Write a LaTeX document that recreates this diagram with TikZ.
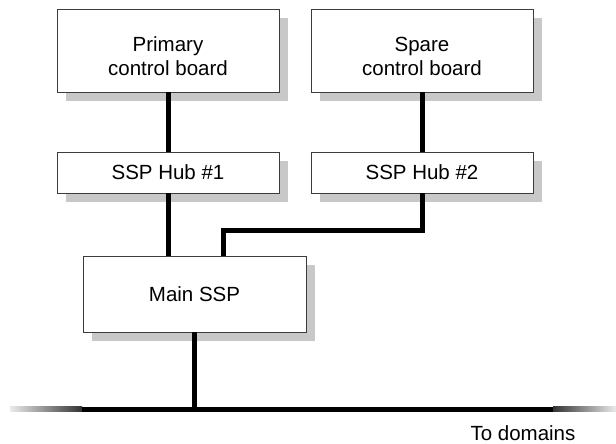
\documentclass[tikz,border=0pt]{standalone}
\usepackage{fontspec}
\setmainfont{Liberation Sans}
\usetikzlibrary{shadows}
\definecolor{shadowgray}{RGB}{200,200,200}
\definecolor{edgegray}{RGB}{60,60,60}
\newcommand{\lowstrut}{\rule{0pt}{26pt}}
\begin{document}
\begin{tikzpicture}[x=1pt,y=-1pt,
  box/.style={draw=edgegray,line width=0.9pt,fill=white,align=center,
    font=\fontsize{20.5}{24.5}\selectfont,inner sep=0pt,
    drop shadow={shadow xshift=9pt,shadow yshift=-9pt,fill=shadowgray,opacity=1}},
  bigbox/.style={box,minimum width=222pt,minimum height=83pt},
  hubbox/.style={box,minimum width=222pt,minimum height=41pt},
  conn/.style={line width=5pt,line join=miter,line cap=butt}]
\useasboundingbox (0,0) rectangle (616,444);
\node[bigbox] (prim) at (168,50.5) {\lowstrut Primary\\control board};
\node[bigbox] (spare) at (422,50.5) {\lowstrut Spare\\control board};
\node[hubbox] (hub1) at (168,172.5) {SSP Hub \#1};
\node[hubbox] (hub2) at (422,172.5) {SSP Hub \#2};
\node[box,minimum width=223pt,minimum height=76pt] (main) at (194.5,294) {Main SSP};
\coordinate (bend) at (223,230);
\coordinate (tap) at (194.5,409);
\coordinate (barL) at (82,409);
\coordinate (barR) at (553,409);
\draw[conn] (prim.south) -- (hub1.north);
\draw[conn] (spare.south) -- (hub2.north);
\draw[conn] (hub1.south) -- (hub1.south |- main.north);
\draw[conn] (hub2.south) |- (bend) -- (bend |- main.north);
\draw[conn] (main.south) -- (tap);
\shade[left color=black!8,right color=black!80] (10,406.5) rectangle (barL |- 0,411.5);
\shade[left color=black!80,right color=black!8] (barR |- 0,406.5) rectangle (616,411.5);
\draw[conn] (barL) -- (barR);
\node[font=\fontsize{20.5}{24.5}\selectfont,anchor=center] (dom) at (523,433) {To domains};
\end{tikzpicture}
\end{document}
